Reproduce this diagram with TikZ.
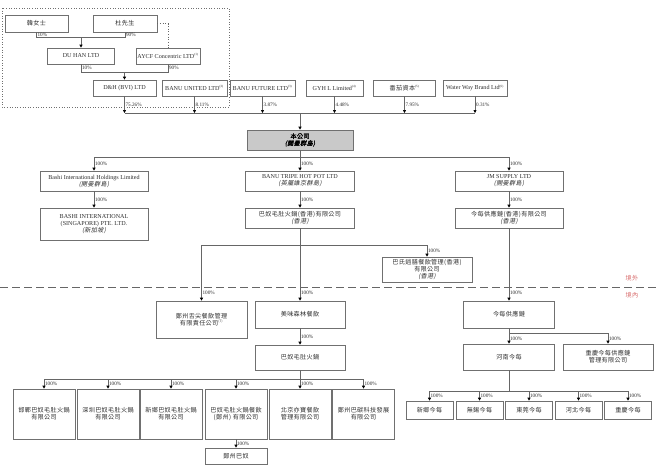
\documentclass[tikz,border=0pt]{standalone}
\usepackage{fontspec}
\setmainfont{Liberation Serif}
\newfontfamily\cjk[LetterSpace=6]{Noto Sans CJK TC}
\newfontfamily\cjkit[FakeSlant=0.2,LetterSpace=6]{Noto Sans CJK TC}
\newfontfamily\cjkbf[FakeBold=2,LetterSpace=6]{Noto Sans CJK TC}
\newfontfamily\cjkbfit[FakeBold=2,FakeSlant=0.2,LetterSpace=6]{Noto Sans CJK TC}
\usetikzlibrary{arrows.meta}
\definecolor{lc}{HTML}{666666}
\definecolor{bc}{HTML}{707070}
\definecolor{tc}{HTML}{2E2E2E}
\definecolor{rc}{HTML}{D86A6A}
\definecolor{fc}{HTML}{C9C9C9}
\newcommand{\sm}{\fontsize{6.1}{7}\selectfont}
\newcommand{\pc}{\fontsize{5.2}{5.6}\selectfont}
\newcommand{\nt}[1]{\textsuperscript{\fontsize{3.2}{3.2}\selectfont(#1)}}
\begin{document}
\begin{tikzpicture}[x=1pt,y=-1pt,
  box/.style={draw=bc,line width=0.65pt,inner sep=0pt,align=center,text=tc,font=\sm},
  bx/.style 2 args={box,minimum width=#1pt,minimum height=#2pt},
  cj/.style={font=\sm\cjk},
  ln/.style={draw=lc,line width=0.65pt},
  ar/.style={ln,-{Triangle[length=3pt,width=3pt,color=black]}},
  pct/.style={font=\pc,text=tc,anchor=west,inner sep=0.8pt},
]
\useasboundingbox (0,0) rectangle (660,471);
\fill[white] (0,0) rectangle (660,471);
\draw[bc,dotted,line width=0.6pt] (2,8) rectangle (229,107);

% top shareholders
\node[bx={63}{17},cj] (han) at (36.5,23.5) {韓女士};
\node[bx={64}{17},cj] (du) at (125,23.5) {杜先生};
\node[bx={67}{16}] (duhan) at (81,56) {DU HAN LTD};
\node[bx={64}{16}] (aycf) at (168,56) {AYCF Concentric LTD\nt{1}};
\node[bx={63}{16}] (dh) at (124.5,88) {D\&H (BVI) LTD};
\node[bx={65}{16}] (bu) at (194.5,88) {BANU UNITED LTD\nt{2}};
\node[bx={65}{16}] (bf) at (262.5,88) {BANU FUTURE LTD\nt{3}};
\node[bx={57}{16}] (gyh) at (334.5,88) {GYH L Limited\nt{4}};
\node[bx={62}{16}] (fq) at (404.5,88) {{\cjk 番茄資本}\nt{5}};
\node[bx={64}{16}] (ww) at (475,88) {Water Way Brand Ltd\nt{6}};

\coordinate (j1) at (81,37);
\coordinate (j2) at (124.5,72);
\coordinate (j3) at (300,113);
\draw[ln] (han.south) -- node[pct]{10\%} (han.south |- j1) -- (du.south |- j1) -- node[pct]{90\%} (du.south);
\draw[ar] (j1) -- (duhan.north);
\draw[ln,dotted] (du.east) -| (aycf.north);
\draw[ln] (duhan.south) -- node[pct]{10\%} (duhan.south |- j2) -- (aycf.south |- j2) -- node[pct]{90\%} (aycf.south);
\draw[ar] (j2) -- (dh.north);
\draw[ar] (dh.south) -- node[pct]{75.26\%} (dh.south |- j3);
\draw[ar] (bu.south) -- node[pct]{8.11\%} (bu.south |- j3);
\draw[ar] (bf.south) -- node[pct]{3.87\%} (bf.south |- j3);
\draw[ar] (gyh.south) -- node[pct]{4.48\%} (gyh.south |- j3);
\draw[ar] (fq.south) -- node[pct]{7.95\%} (fq.south |- j3);
\draw[ar] (ww.south) -- node[pct]{0.31\%} (ww.south |- j3);
\draw[ln] (dh.south |- j3) -- (ww.south |- j3);

% company
\node[bx={106}{20},fill=fc,font=\sm\cjkbf,text=black] (co) at (300,140) {本公司\\{\cjkbfit (開曼群島)}};
\draw[ar] (j3) -- (co.north);

\node[bx={108}{20}] (bashi) at (94,181) {Bashi International Holdings Limited\\{\cjkit (開曼群島)}};
\node[bx={109}{20}] (tripe) at (300,181) {BANU TRIPE HOT POT LTD\\{\cjkit (英屬維京群島)}};
\node[bx={108}{20}] (jm) at (509,181) {JM SUPPLY LTD\\{\cjkit (開曼群島)}};
\coordinate (j4) at (300,157);
\draw[ln] (co.south) -- (j4);
\draw[ln] (bashi.north |- j4) -- (jm.north |- j4);
\draw[ar] (bashi.north |- j4) -- node[pct]{100\%} (bashi.north);
\draw[ar] (j4) -- node[pct]{100\%} (tripe.north);
\draw[ar] (jm.north |- j4) -- node[pct]{100\%} (jm.north);

\node[bx={108}{32}] (bsg) at (94,224) {BASHI INTERNATIONAL\\(SINGAPORE) PTE. LTD.\\{\cjkit (新加坡)}};
\node[bx={109}{20},cj] (bhk) at (300,218) {巴奴毛肚火鍋(香港)有限公司\\{\cjkit (香港)}};
\node[bx={108}{20},cj] (jhk) at (509,218) {今每供應鏈(香港)有限公司\\{\cjkit (香港)}};
\draw[ar] (bashi.south) -- node[pct]{100\%} (bsg.north);
\draw[ar] (tripe.south) -- node[pct]{100\%} (bhk.north);
\draw[ar] (jm.south) -- node[pct]{100\%} (jhk.north);

% offshore / onshore
\node[bx={90}{25},cj] (bst) at (427,269.5) {巴氏逍膳餐飲管理(香港)\\有限公司\\{\cjkit (香港)}};
\coordinate (dl) at (0,287);
\coordinate (dr) at (660,287);
\draw[ln,dash pattern=on 8pt off 4pt] (dl) -- (dr);
\node[font=\sm\cjk,text=rc] (jw) at (632,278) {境外};
\node[font=\sm\cjk,text=rc] (jn) at (632,295) {境內};

\node[bx={91}{37},cj] (zz) at (201.5,319.5) {鄭州舌尖餐飲管理\\有限責任公司\nt{7}};
\node[bx={90}{27},cj] (mw) at (300,314.5) {美味森林餐飲};
\node[bx={90}{25},cj] (bh) at (300,357.5) {巴奴毛肚火鍋};
\node[bx={91}{27},cj] (jcn) at (509,314.5) {今每供應鏈};
\node[bx={91}{26},cj] (hn) at (509,357) {河南今每};
\node[bx={90}{26},cj] (cq) at (608,357) {重慶今每供應鏈\\管理有限公司};

\coordinate (j5) at (300,245);
\draw[ar] (bhk.south) -- node[pct,pos=0.89]{100\%} (mw.north);
\draw[ln] (zz.north |- j5) -- (bst.north |- j5);
\draw[ar] (zz.north |- j5) -- node[pct,pos=0.86]{100\%} (zz.north);
\draw[ar] (bst.north |- j5) -- node[pct]{100\%} (bst.north);
\draw[ar] (jhk.south) -- node[pct,pos=0.89]{100\%} (jcn.north);
\draw[ar] (mw.south) -- node[pct]{100\%} (bh.north);
\coordinate (j6) at (509,333);
\draw[ln] (jcn.south) -- (j6) -- (cq.north |- j6);
\draw[ar] (j6) -- node[pct]{100\%} (hn.north);
\draw[ar] (cq.north |- j6) -- node[pct]{100\%} (cq.north);

% bottom rows
\node[bx={62}{50},cj] (r1) at (44,414) {邯鄲巴奴毛肚火鍋\\有限公司};
\node[bx={62}{50},cj] (r2) at (108,414) {深圳巴奴毛肚火鍋\\有限公司};
\node[bx={62}{50},cj] (r3) at (171,414) {新鄉巴奴毛肚火鍋\\有限公司};
\node[bx={62}{50},cj] (r4) at (236,414) {巴奴毛肚火鍋餐飲\\(鄭州) 有限公司};
\node[bx={62}{50},cj] (r5) at (300,414) {北京亦寶餐飲\\管理有限公司};
\node[bx={62}{50},cj] (r6) at (363.5,414) {鄭州巴碳科技發展\\有限公司};
\node[bx={62}{16},cj] (zzb) at (236,456) {鄭州巴奴};
\coordinate (j7) at (300,379);
\draw[ln] (bh.south) -- (j7);
\draw[ln] (r1.north |- j7) -- (r6.north |- j7);
\foreach \r in {r1,r2,r3,r4,r6}{
  \draw[ar] (\r.north |- j7) -- node[pct]{100\%} (\r.north);
}
\draw[ar] (j7) -- node[pct]{100\%} (r5.north);
\draw[ar] (r4.south) -- node[pct]{100\%} (zzb.north);

\node[bx={47}{18},cj] (s1) at (429.5,410) {新鄉今每};
\node[bx={47}{18},cj] (s2) at (479.5,410) {無錫今每};
\node[bx={47}{18},cj] (s3) at (529,410) {東莞今每};
\node[bx={47}{18},cj] (s4) at (578.5,410) {河北今每};
\node[bx={47}{18},cj] (s5) at (628,410) {重慶今每};
\coordinate (j8) at (509,391);
\draw[ln] (hn.south) -- (j8);
\draw[ln] (s1.north |- j8) -- (s5.north |- j8);
\foreach \s in {s1,s2,s3,s4,s5}{
  \draw[ar] (\s.north |- j8) -- node[pct]{100\%} (\s.north);
}
\end{tikzpicture}
\end{document}
